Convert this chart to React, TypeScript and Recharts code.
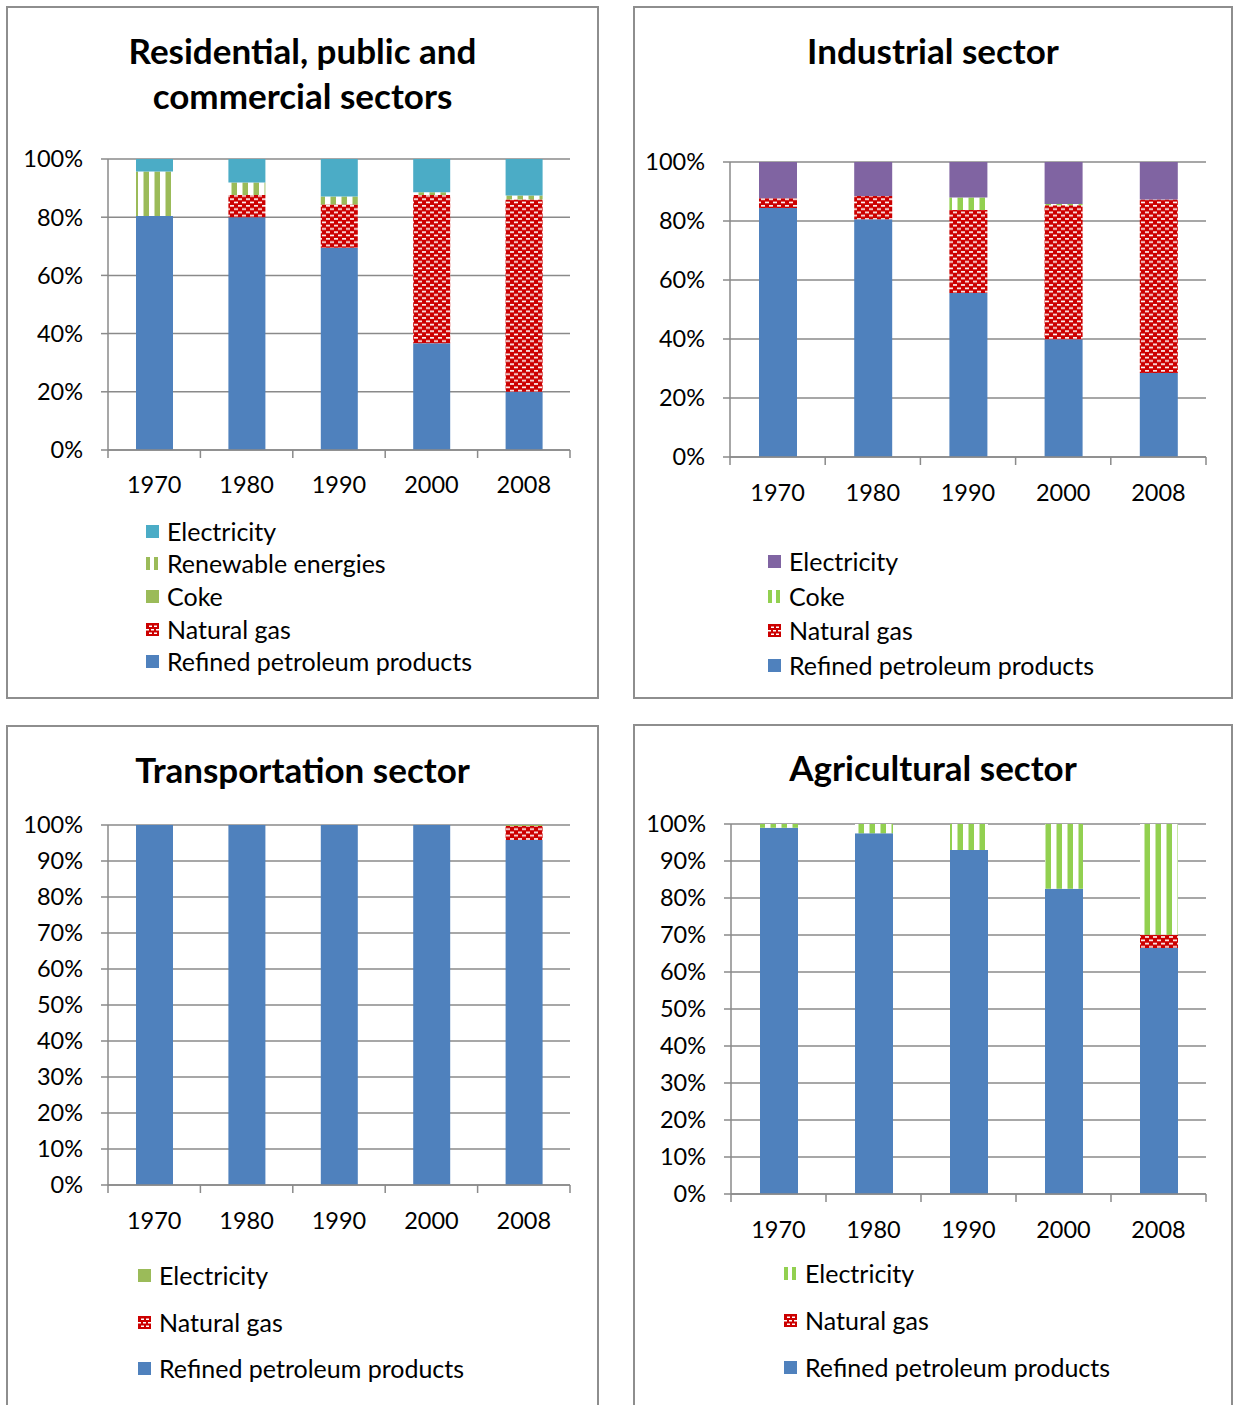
import { BarChart, Bar, XAxis, YAxis, CartesianGrid } from 'recharts';

const YEARS = ['1970', '1980', '1990', '2000', '2008'];

// shares of final energy consumption, in %
const RES_PETROLEUM = [80.4, 80.0, 69.5, 36.7, 20.0];
const RES_GAS = [0, 7.6, 14.9, 50.9, 66.1];
const RES_COKE = [0, 0, 0, 0, 0];
const RES_RENEWABLE = [15.3, 4.3, 2.7, 1.0, 1.4];
const RES_ELECTRICITY = [4.3, 8.1, 12.9, 11.4, 12.5];

const IND_PETROLEUM = [84.4, 80.6, 55.6, 39.9, 28.5];
const IND_GAS = [3.3, 7.9, 28.1, 45.4, 58.8];
const IND_COKE = [0, 0, 4.3, 0.5, 0];
const IND_ELECTRICITY = [12.3, 11.5, 12.0, 14.2, 12.7];

const TR_PETROLEUM = [100, 100, 100, 100, 95.8];
const TR_GAS = [0, 0, 0, 0, 3.9];
const TR_ELECTRICITY = [0, 0, 0, 0, 0.3];

const AG_PETROLEUM = [99.0, 97.5, 93.0, 82.5, 66.5];
const AG_GAS = [0, 0, 0, 0, 3.6];
const AG_ELECTRICITY = [1.0, 2.5, 7.0, 17.5, 29.9];

const TICKS_20 = [0, 20, 40, 60, 80, 100];
const TICKS_10 = [0, 10, 20, 30, 40, 50, 60, 70, 80, 90, 100];

const FONT = 'Lato, "Noto Sans", sans-serif';
const AXIS_FONT = 23.5;
const LEGEND_FONT = 25;
const TITLE_FONT = 35;
const GRID = '#8a8a8a';
const BLUE = '#4F81BD';
const RED = '#CC0000';
const OLIVE = '#9BBB59';
const LIME = '#92D050';
const TEAL = '#4BACC6';
const PURPLE = '#8064A2';

type FillKind = 'solid' | 'stripes' | 'bricks';
type Series = { key: string; name: string; values: number[]; kind: FillKind; color: string };

type Box = { left: number; top: number; width: number; height: number };
type Plot = { left: number; top: number; right: number; bottom: number };

type Panel = {
  id: string;
  title: string[];
  titleY: number;
  series: Series[]; // stacked bottom to top
  yTicks: number[];
  box: Box;
  plot: Plot;
  labelGap: number;
  barSize: number;
  legendRows: number[];
  legendX: number;
};

const PANELS: Panel[] = [
  {
    id: 'res',
    title: ['Residential, public and', 'commercial sectors'],
    titleY: 50,
    series: [
      { key: 'petroleum', name: 'Refined petroleum products', values: RES_PETROLEUM, kind: 'solid', color: BLUE },
      { key: 'gas', name: 'Natural gas', values: RES_GAS, kind: 'bricks', color: RED },
      { key: 'coke', name: 'Coke', values: RES_COKE, kind: 'solid', color: OLIVE },
      { key: 'renew', name: 'Renewable energies', values: RES_RENEWABLE, kind: 'stripes', color: OLIVE },
      { key: 'elec', name: 'Electricity', values: RES_ELECTRICITY, kind: 'solid', color: TEAL },
    ],
    yTicks: TICKS_20,
    box: { left: 6, top: 6, width: 593, height: 693 },
    plot: { left: 108, top: 159, right: 570, bottom: 450 },
    labelGap: 34,
    barSize: 37,
    legendRows: [531, 563, 596, 629, 661],
    legendX: 146,
  },
  {
    id: 'ind',
    title: ['Industrial sector'],
    titleY: 50,
    series: [
      { key: 'petroleum', name: 'Refined petroleum products', values: IND_PETROLEUM, kind: 'solid', color: BLUE },
      { key: 'gas', name: 'Natural gas', values: IND_GAS, kind: 'bricks', color: RED },
      { key: 'coke', name: 'Coke', values: IND_COKE, kind: 'stripes', color: LIME },
      { key: 'elec', name: 'Electricity', values: IND_ELECTRICITY, kind: 'solid', color: PURPLE },
    ],
    yTicks: TICKS_20,
    box: { left: 633, top: 6, width: 600, height: 693 },
    plot: { left: 730, top: 162, right: 1206, bottom: 457 },
    labelGap: 35,
    barSize: 38,
    legendRows: [561, 596, 630, 665],
    legendX: 768,
  },
  {
    id: 'tr',
    title: ['Transportation sector'],
    titleY: 769,
    series: [
      { key: 'petroleum', name: 'Refined petroleum products', values: TR_PETROLEUM, kind: 'solid', color: BLUE },
      { key: 'gas', name: 'Natural gas', values: TR_GAS, kind: 'bricks', color: RED },
      { key: 'elec', name: 'Electricity', values: TR_ELECTRICITY, kind: 'solid', color: OLIVE },
    ],
    yTicks: TICKS_10,
    box: { left: 6, top: 725, width: 593, height: 700 },
    plot: { left: 108, top: 825, right: 570, bottom: 1185 },
    labelGap: 35,
    barSize: 37,
    legendRows: [1275, 1322, 1368],
    legendX: 138,
  },
  {
    id: 'ag',
    title: ['Agricultural sector'],
    titleY: 767,
    series: [
      { key: 'petroleum', name: 'Refined petroleum products', values: AG_PETROLEUM, kind: 'solid', color: BLUE },
      { key: 'gas', name: 'Natural gas', values: AG_GAS, kind: 'bricks', color: RED },
      { key: 'elec', name: 'Electricity', values: AG_ELECTRICITY, kind: 'stripes', color: LIME },
    ],
    yTicks: TICKS_10,
    box: { left: 633, top: 724, width: 600, height: 700 },
    plot: { left: 731, top: 824, right: 1206, bottom: 1194 },
    labelGap: 35,
    barSize: 38,
    legendRows: [1273, 1320, 1367],
    legendX: 784,
  },
];

const patternId = (panel: string, key: string) => `${panel}-${key}-fill`;

function fillFor(panel: string, s: Series) {
  return s.kind === 'solid' ? s.color : `url(#${patternId(panel, s.key)})`;
}

function SeriesPattern({ id, s }: { id: string; s: Series }) {
  if (s.kind === 'bricks') {
    return (
      <pattern id={id} width={8} height={6.6} patternUnits="userSpaceOnUse">
        <rect width={8} height={6.6} fill={s.color} />
        <rect x={0} y={1} width={4} height={1.6} fill="#fff" />
        <rect x={4} y={4.3} width={4} height={1.6} fill="#fff" />
      </pattern>
    );
  }
  return (
    <pattern id={id} width={11} height={10} patternUnits="userSpaceOnUse">
      <rect width={11} height={10} fill="#fff" />
      <rect x={5.5} width={5.5} height={10} fill={s.color} />
    </pattern>
  );
}

function Swatch({ s }: { s: Series }) {
  return (
    <svg width={13} height={13} style={{ display: 'block' }}>
      {s.kind === 'solid' && <rect width={13} height={13} fill={s.color} />}
      {s.kind === 'stripes' && (
        <>
          <rect x={0} width={4} height={13} fill={s.color} />
          <rect x={8} width={4} height={13} fill={s.color} />
        </>
      )}
      {s.kind === 'bricks' && (
        <>
          <rect width={13} height={13} fill={s.color} />
          <rect x={3} y={2.5} width={3} height={1.5} fill="#fff" />
          <rect x={8} y={2.5} width={3} height={1.5} fill="#fff" />
          <rect x={0} y={6} width={3} height={1.5} fill="#fff" />
          <rect x={5} y={6} width={3} height={1.5} fill="#fff" />
          <rect x={10} y={6} width={3} height={1.5} fill="#fff" />
          <rect x={3} y={9.5} width={3} height={1.5} fill="#fff" />
          <rect x={8} y={9.5} width={3} height={1.5} fill="#fff" />
        </>
      )}
    </svg>
  );
}

function YearTick(props: any) {
  const { x, y, payload, index, band, gap } = props;
  const last = index === YEARS.length - 1;
  return (
    <g>
      <line x1={x - band / 2} x2={x - band / 2} y1={y} y2={y + 8} stroke={GRID} strokeWidth={1.5} />
      {last && <line x1={x + band / 2} x2={x + band / 2} y1={y} y2={y + 8} stroke={GRID} strokeWidth={1.5} />}
      <text
        x={x}
        y={y + gap}
        textAnchor="middle"
        dominantBaseline="central"
        fontSize={AXIS_FONT}
        fontFamily={FONT}
        fill="#000"
      >
        {payload.value}
      </text>
    </g>
  );
}

function SectorChart({ p }: { p: Panel }) {
  const rows = YEARS.map((year, i) => {
    const row: Record<string, string | number> = { year };
    p.series.forEach((s) => {
      row[s.key] = s.values[i];
    });
    return row;
  });

  const chartHeight = p.plot.bottom - p.box.top + 60;
  const band = (p.plot.right - p.plot.left) / YEARS.length;

  return (
    <>
      <div
        style={{
          position: 'absolute',
          left: p.box.left,
          top: p.box.top,
          width: p.box.width,
          height: p.box.height,
          border: '2px solid #8e8e8e',
          boxSizing: 'border-box',
          background: '#fff',
        }}
      />
      <div
        style={{
          position: 'absolute',
          left: p.box.left,
          top: p.titleY - 22.5,
          width: p.box.width,
          textAlign: 'center',
          fontFamily: FONT,
          fontWeight: 700,
          fontSize: TITLE_FONT,
          lineHeight: '45px',
          color: '#000',
          whiteSpace: 'nowrap',
        }}
      >
        {p.title.map((t) => (
          <div key={t}>{t}</div>
        ))}
      </div>
      <div style={{ position: 'absolute', left: p.box.left, top: p.box.top }}>
        <BarChart
          width={p.box.width}
          height={chartHeight}
          data={rows}
          margin={{
            left: 0,
            right: p.box.left + p.box.width - p.plot.right,
            top: p.plot.top - p.box.top,
            bottom: 59,
          }}
        >
          <defs>
            {p.series
              .filter((s) => s.kind !== 'solid')
              .map((s) => (
                <SeriesPattern key={s.key} id={patternId(p.id, s.key)} s={s} />
              ))}
          </defs>
          <CartesianGrid vertical={false} stroke={GRID} strokeWidth={1.5} />
          <XAxis
            dataKey="year"
            height={1}
            interval={0}
            tickSize={0}
            tickMargin={0}
            tickLine={false}
            axisLine={{ stroke: GRID, strokeWidth: 1.5 }}
            tick={(tp: any) => <YearTick {...tp} band={band} gap={p.labelGap} />}
          />
          <YAxis
            type="number"
            width={p.plot.left - p.box.left}
            domain={[0, 100]}
            allowDataOverflow
            ticks={p.yTicks}
            interval={0}
            tickFormatter={(v: number) => `${v}%`}
            tickSize={7}
            tickMargin={18}
            tickLine={{ stroke: GRID, strokeWidth: 1.5 }}
            axisLine={{ stroke: GRID, strokeWidth: 1.5 }}
            tick={{ fontSize: AXIS_FONT, fontFamily: FONT, fill: '#000' }}
          />
          {p.series.map((s) => (
            <Bar
              key={s.key}
              dataKey={s.key}
              name={s.name}
              stackId="share"
              barSize={p.barSize}
              fill={fillFor(p.id, s)}
              isAnimationActive={false}
            />
          ))}
        </BarChart>
      </div>
      {[...p.series].reverse().map((s, i) => (
        <div
          key={s.key}
          style={{
            position: 'absolute',
            left: p.legendX,
            top: p.legendRows[i] - 15,
            height: 30,
            display: 'flex',
            alignItems: 'center',
            gap: 8,
            fontFamily: FONT,
            fontSize: LEGEND_FONT,
            color: '#000',
            whiteSpace: 'nowrap',
          }}
        >
          <Swatch s={s} />
          <span>{s.name}</span>
        </div>
      ))}
    </>
  );
}

export default function App() {
  return (
    <div
      style={{
        position: 'absolute',
        left: 0,
        top: 0,
        width: 1233,
        height: 1405,
        overflow: 'hidden',
        background: '#fff',
      }}
    >
      {PANELS.map((p) => (
        <SectorChart key={p.id} p={p} />
      ))}
    </div>
  );
}
